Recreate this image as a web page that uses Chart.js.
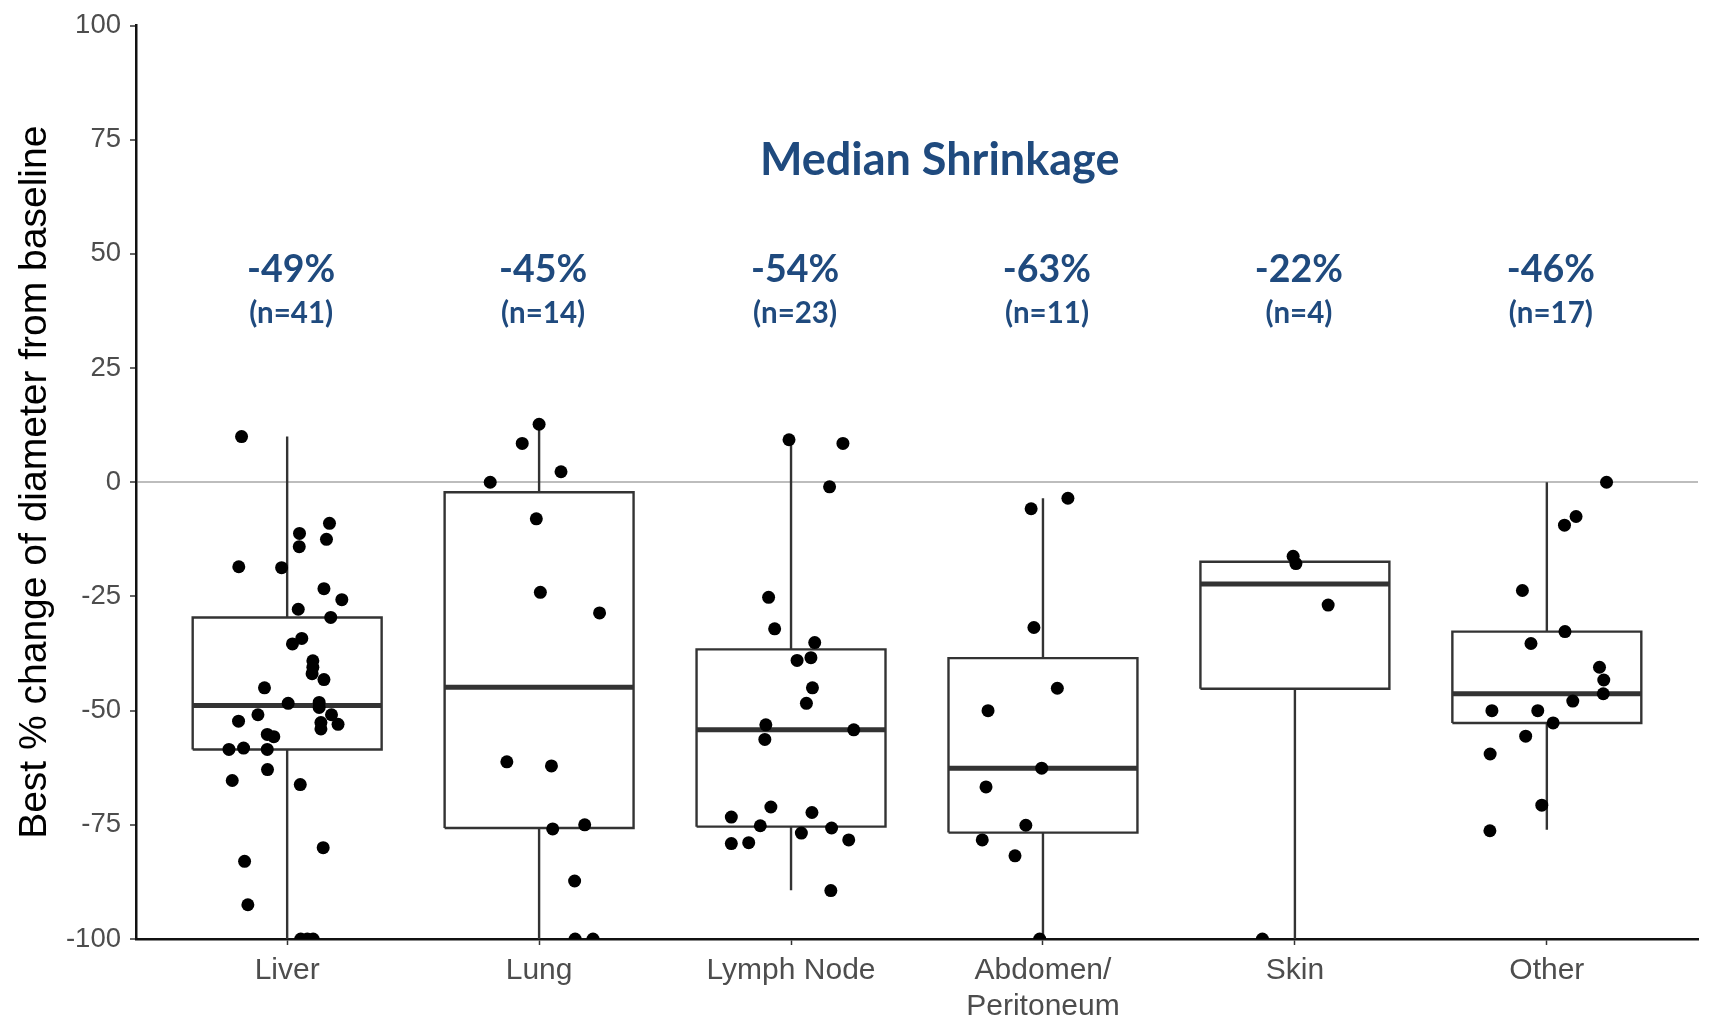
<!DOCTYPE html>
<html>
<head>
<meta charset="utf-8">
<script src="https://cdn.jsdelivr.net/npm/chart.js@4.4.0/dist/chart.umd.min.js"></script>
<style>
  html, body { margin: 0; padding: 0; background: #fff; }
  #wrap { width: 1712px; height: 1021px; }
</style>
</head>
<body>
<div id="wrap"><canvas id="grafica"></canvas></div>
<script>
// sites on the x axis
const sites = [['Liver'], ['Lung'], ['Lymph Node'], ['Abdomen/', 'Peritoneum'], ['Skin'], ['Other']];

// best % change per lesion
const liver = [10, -9, -11.2, -12.5, -14.1, -18.5, -18.7, -23.3, -25.7, -27.8, -29.6, -34.2, -35.4, -39.1, -40.5, -41.9, -43.2, -45, -48.4, -48.2, -49.3, -50.9, -50.9, -52.3, -53, -52.6, -54, -55.2, -55.7, -58.5, -58.2, -58.5, -62.9, -65.3, -66.2, -80, -83, -92.5, -100, -100, -100];
const lung = [12.7, 8.5, 2.3, 0, -8, -24.1, -28.6, -61.2, -62.1, -75.9, -75, -87.3, -100, -100];
const lymphNode = [9.3, 8.5, -1, -25.2, -32.1, -35.1, -38.4, -39, -45, -48.4, -53.1, -56.3, -54.2, -71.1, -72.3, -73.3, -75.2, -75.7, -76.8, -79.1, -78.9, -78.3, -89.4];
const abdomen = [-3.5, -5.8, -31.8, -45.1, -50, -62.6, -66.7, -75.1, -78.3, -81.8, -100];
const skin = [-16.2, -17.8, -26.9, -100];
const other = [0, -7.5, -9.4, -23.7, -32.7, -35.3, -40.5, -43.3, -46.3, -47.9, -50, -50, -52.7, -55.6, -59.5, -70.7, -76.3];

// horizontal jitter of each dot, as seen in the picture (category units)
const liverJitter = [-0.181, 0.168, 0.049, 0.156, 0.048, -0.192, -0.022, 0.146, 0.217, 0.044, 0.173, 0.058, 0.021, 0.102, 0.102, 0.099, 0.146, -0.09, 0.004, 0.127, 0.127, -0.116, 0.176, -0.193, 0.202, 0.134, 0.134, -0.079, -0.053, -0.231, -0.173, -0.079, -0.078, -0.218, 0.052, 0.143, -0.169, -0.156, 0.054, 0.103, 0.08];
const lungJitter = [0, -0.067, 0.087, -0.194, -0.011, 0.005, 0.24, -0.128, 0.049, 0.054, 0.181, 0.141, 0.143, 0.214];
const lymphJitter = [-0.008, 0.206, 0.153, -0.089, -0.065, 0.094, 0.079, 0.024, 0.085, 0.061, -0.1, -0.104, 0.249, -0.08, 0.083, -0.237, -0.122, 0.161, 0.041, -0.237, -0.168, 0.229, 0.158];
const abdomenJitter = [0.099, -0.047, -0.036, 0.057, -0.218, -0.005, -0.226, -0.068, -0.241, -0.111, -0.013];
const skinJitter = [-0.007, 0.004, 0.132, -0.129];
const otherJitter = [0.237, 0.116, 0.07, -0.097, 0.072, -0.063, 0.209, 0.226, 0.224, 0.103, -0.218, -0.036, 0.025, -0.084, -0.225, -0.02, -0.226];

const groups = [liver, lung, lymphNode, abdomen, skin, other];
const jitters = [liverJitter, lungJitter, lymphJitter, abdomenJitter, skinJitter, otherJitter];

// box plot statistics
const q1 = [-58.5, -75.7, -75.4, -76.7, -45.2, -52.7];
const median = [-48.9, -44.9, -54.2, -62.6, -22.3, -46.3];
const q3 = [-29.6, -2.2, -36.6, -38.5, -17.4, -32.7];
const whiskerLo = [-100, -100, -89.3, -100, -100, -76.1];
const whiskerHi = [10, 12.7, 9.3, -3.5, -17.4, 0];

// annotations above the boxes
const medianText = ['-49%', '-45%', '-54%', '-63%', '-22%', '-46%'];
const counts = [41, 14, 23, 11, 4, 17];

const yTicks = [-100, -75, -50, -25, 0, 25, 50, 75, 100];

const halfBox = 0.375;
const dark = '#333333';
const blue = '#1F4A7E';

const dots = [];
groups.forEach((vals, i) => {
    vals.forEach((v, j) => dots.push({ x: i + 1 + jitters[i][j], y: v }));
});

const boxLines = [];
const medianLines = [];
const whiskerLines = [];
sites.forEach((s, i) => {
    const c = i + 1;
    boxLines.push(
        { x: c - halfBox, y: q1[i] }, { x: c + halfBox, y: q1[i] },
        { x: c + halfBox, y: q3[i] }, { x: c - halfBox, y: q3[i] },
        { x: c - halfBox, y: q1[i] }, { x: c, y: null }
    );
    medianLines.push({ x: c - halfBox, y: median[i] }, { x: c + halfBox, y: median[i] }, { x: c, y: null });
    whiskerLines.push(
        { x: c, y: q3[i] }, { x: c, y: whiskerHi[i] }, { x: c, y: null },
        { x: c, y: q1[i] }, { x: c, y: whiskerLo[i] }, { x: c, y: null }
    );
});

const annotations = {
    id: 'annotations',
    afterDatasetsDraw(chart) {
        const { ctx, scales: { x, y } } = chart;
        ctx.save();
        ctx.fillStyle = blue;
        ctx.textAlign = 'center';
        ctx.textBaseline = 'middle';
        ctx.font = 'bold 45px Lato';
        ctx.fillText('Median Shrinkage', x.getPixelForValue(3.59), y.getPixelForValue(70.4));
        sites.forEach((s, i) => {
            const px = x.getPixelForValue(i + 1) + 4;
            ctx.font = 'bold 37.5px Lato';
            ctx.fillText(medianText[i], px, y.getPixelForValue(46.5));
            ctx.font = 'bold 29.5px Lato';
            ctx.fillText('(n=' + counts[i] + ')', px, y.getPixelForValue(37));
        });
        ctx.restore();
    }
};

const lineStyle = {
    showLine: true,
    pointRadius: 0,
    pointHoverRadius: 0,
    borderColor: dark,
    borderJoinStyle: 'miter',
    spanGaps: false,
    tension: 0,
    order: 2
};

new Chart(document.getElementById('grafica'), {
    type: 'scatter',
    data: {
        datasets: [{
            label: 'lesions',
            data: dots,
            pointRadius: 6.5,
            pointHoverRadius: 6.5,
            pointBorderWidth: 0,
            pointBackgroundColor: '#000',
            clip: { left: 20, right: 20, top: 20, bottom: 0 },
            order: 0
        }, {
            ...lineStyle, label: 'box', data: boxLines, borderWidth: 2.4
        }, {
            ...lineStyle, label: 'median', data: medianLines, borderWidth: 5, borderCapStyle: 'butt'
        }, {
            ...lineStyle, label: 'whisker', data: whiskerLines, borderWidth: 2.4
        }]
    },
    options: {
        responsive: true,
        maintainAspectRatio: false,
        animation: false,
        layout: { padding: { top: 20, right: 14, left: 0, bottom: 0 } },
        plugins: {
            legend: { display: false },
            tooltip: { enabled: false }
        },
        scales: {
            x: {
                type: 'linear',
                min: 0.4,
                max: 6.6,
                afterBuildTicks: scale => { scale.ticks = sites.map((s, i) => ({ value: i + 1 })); },
                afterFit: scale => { scale.height = 82; },
                ticks: {
                    callback: v => sites[v - 1],
                    color: '#4d4d4d',
                    font: { family: 'Liberation Sans', size: 30, lineHeight: 1.2 },
                    padding: 8,
                    maxRotation: 0,
                    autoSkip: false
                },
                grid: { color: 'transparent', tickColor: dark, tickLength: 6, tickWidth: 1.5 },
                border: { display: true, color: '#111', width: 2.5 }
            },
            y: {
                min: -100,
                max: 100,
                afterBuildTicks: scale => { scale.ticks = yTicks.map(v => ({ value: v })); },
                afterFit: scale => { scale.width = 136; },
                ticks: {
                    color: '#4d4d4d',
                    font: { family: 'Liberation Sans', size: 27.5 },
                    padding: 9
                },
                grid: {
                    color: ctx => ctx.tick && ctx.tick.value === 0 ? '#bdbdbd' : 'transparent',
                    lineWidth: 2,
                    tickColor: dark,
                    tickLength: 6,
                    tickWidth: 1.5
                },
                border: { display: true, color: '#111', width: 2.5 },
                title: {
                    display: true,
                    text: 'Best % change of diameter from baseline',
                    color: '#000',
                    font: { family: 'Liberation Sans', size: 39 },
                    padding: { top: 12, bottom: 0 }
                }
            }
        }
    },
    plugins: [annotations]
});
</script>
</body>
</html>
